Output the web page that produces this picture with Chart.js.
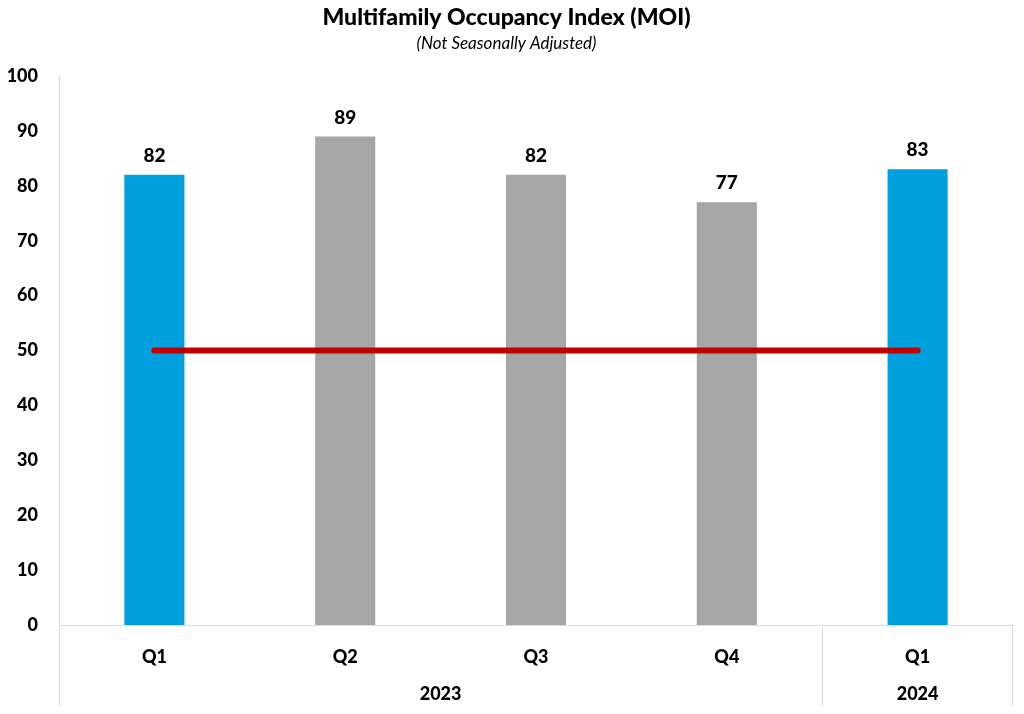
<!DOCTYPE html>
<html lang="en">
<head>
    <meta charset="UTF-8">
    <title>Multifamily Occupancy Index</title>
    <script src="https://cdn.jsdelivr.net/npm/chart.js"></script>
    <style>
        html, body { margin: 0; padding: 0; background: #fff; }
        #wrap { width: 1024px; height: 714px; }
    </style>
</head>
<body>
    <div id="wrap"><canvas id="moiChart"></canvas></div>
    <script>
        const quarters = ['Q1', 'Q2', 'Q3', 'Q4', 'Q1'];
        const years = ['2023', '2023', '2023', '2023', '2024'];
        const moiValues = [82, 89, 82, 77, 83];
        const baseline = [50, 50, 50, 50, 50];
        const yTicks = [0, 10, 20, 30, 40, 50, 60, 70, 80, 90, 100];

        const FONT = 'Lato, "Open Sans", Arial, sans-serif';
        const BLUE = '#00a0de';
        const GRAY = '#a6a6a6';
        const LINE = '#d9d9d9';

        // value labels on top of the bars (bar dataset is index 1)
        const barLabels = {
            id: 'barLabels',
            afterDatasetsDraw(chart) {
                const ctx = chart.ctx;
                const meta = chart.getDatasetMeta(1);
                ctx.save();
                ctx.font = '900 19px ' + FONT;
                ctx.fillStyle = '#000';
                ctx.textAlign = 'center';
                ctx.textBaseline = 'middle';
                meta.data.forEach((bar, i) => {
                    ctx.fillText(moiValues[i], bar.x, bar.y - 19);
                });
                ctx.restore();
            }
        };

        // second row of the category axis: years with separators
        const yearAxis = {
            id: 'yearAxis',
            afterDraw(chart) {
                const ctx = chart.ctx;
                const x = chart.scales.x;
                const half = (x.getPixelForValue(1) - x.getPixelForValue(0)) / 2;
                const bottom = chart.height - 8;
                const groups = [];
                years.forEach((y, i) => {
                    const g = groups[groups.length - 1];
                    if (g && g.year === y) g.end = i;
                    else groups.push({ year: y, start: i, end: i });
                });
                ctx.save();
                ctx.strokeStyle = LINE;
                ctx.lineWidth = 1;
                ctx.font = '900 18px ' + FONT;
                ctx.fillStyle = '#000';
                ctx.textAlign = 'center';
                ctx.textBaseline = 'middle';
                groups.forEach((g, k) => {
                    const left = x.getPixelForValue(g.start) - half;
                    const right = x.getPixelForValue(g.end) + half;
                    ctx.beginPath();
                    ctx.moveTo(Math.round(left) + 0.5, x.top);
                    ctx.lineTo(Math.round(left) + 0.5, bottom);
                    if (k === groups.length - 1) {
                        ctx.moveTo(Math.round(right) - 0.5, x.top);
                        ctx.lineTo(Math.round(right) - 0.5, bottom);
                    }
                    ctx.stroke();
                    ctx.fillText(g.year, (left + right) / 2, x.top + 69);
                });
                ctx.restore();
            }
        };

        new Chart(document.getElementById('moiChart'), {
            data: {
                labels: quarters,
                datasets: [{
                    type: 'line',
                    data: baseline,
                    borderColor: '#c00000',
                    borderWidth: 6,
                    borderCapStyle: 'round',
                    pointRadius: 0,
                    order: 0
                }, {
                    type: 'bar',
                    data: moiValues,
                    backgroundColor: quarters.map(q => q === 'Q1' ? BLUE : GRAY),
                    categoryPercentage: 1,
                    barPercentage: 0.315,
                    order: 1
                }]
            },
            options: {
                responsive: true,
                maintainAspectRatio: false,
                animation: false,
                layout: { padding: { left: 0, right: 11, top: 0, bottom: 0 } },
                plugins: {
                    legend: { display: false },
                    tooltip: { enabled: false },
                    title: {
                        display: true,
                        text: 'Multifamily Occupancy Index (MOI)',
                        color: '#000',
                        font: { family: FONT, size: 23, weight: '900' },
                        padding: { top: 4, bottom: 1 }
                    },
                    subtitle: {
                        display: true,
                        text: '(Not Seasonally Adjusted)',
                        color: '#000',
                        font: { family: FONT, size: 17, style: 'italic' },
                        padding: { top: 1, bottom: 22 }
                    }
                },
                scales: {
                    x: {
                        offset: true,
                        grid: { display: false },
                        border: { display: true, color: LINE, width: 1 },
                        ticks: {
                            color: '#000',
                            font: { family: FONT, size: 18, weight: '900' },
                            padding: 13
                        },
                        afterFit(scale) { scale.height = 89; }
                    },
                    y: {
                        min: 0,
                        max: 100,
                        afterBuildTicks(scale) { scale.ticks = yTicks.map(v => ({ value: v })); },
                        grid: { display: false },
                        border: { display: true, color: LINE, width: 1 },
                        ticks: {
                            color: '#000',
                            font: { family: FONT, size: 18, weight: '900' },
                            padding: 13
                        },
                        afterFit(scale) { scale.width = 59; }
                    }
                }
            },
            plugins: [barLabels, yearAxis]
        });
    </script>
</body>
</html>
